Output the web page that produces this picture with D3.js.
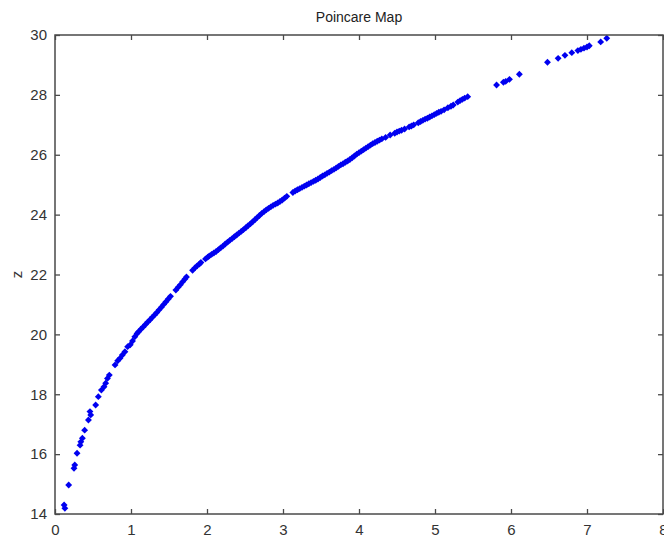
<!DOCTYPE html>
<html>
<head>
<meta charset="utf-8">
<script src="https://cdn.jsdelivr.net/npm/d3@7"></script>
<style>
  body { margin: 0; background: #fff; }
  svg { display: block; }
  .tick text { font-family: "Liberation Sans", Arial, sans-serif; font-size: 15px; fill: #333; }
</style>
</head>
<body>
<div id="chart"></div>
<script>
// points (x, z)
var xs = [
  0.12, 0.13, 0.18, 0.25, 0.26, 0.29, 0.33, 0.34, 0.36, 0.39,
  0.44, 0.46, 0.47, 0.535, 0.57, 0.61, 0.645, 0.667, 0.69, 0.715,
  0.79, 0.825, 0.855, 0.886, 0.92, 0.956, 0.99,
  1.02, 1.05, 1.08, 1.10, 1.13, 1.16, 1.19, 1.22, 1.25, 1.28,
  1.31, 1.34, 1.37, 1.40, 1.43, 1.46, 1.49, 1.52, 1.59, 1.62,
  1.65, 1.68, 1.71, 1.73, 1.81, 1.84, 1.87, 1.90, 1.92, 1.98,
  2.01, 2.03, 2.06, 2.09, 2.12, 2.15, 2.18, 2.21, 2.24, 2.27,
  2.30, 2.33, 2.36, 2.39, 2.42, 2.45, 2.48, 2.51, 2.54, 2.57,
  2.60, 2.63, 2.66, 2.69, 2.72, 2.75, 2.78, 2.81, 2.84, 2.87,
  2.90, 2.93, 2.96, 2.99, 3.02, 3.05, 3.13, 3.16, 3.19, 3.22,
  3.25, 3.28, 3.31, 3.34, 3.37, 3.40, 3.43, 3.46, 3.49, 3.52,
  3.55, 3.58, 3.61, 3.64, 3.67, 3.70, 3.73, 3.76, 3.79, 3.82,
  3.85, 3.88, 3.91, 3.94, 3.97, 4.00, 4.03, 4.06, 4.09, 4.12,
  4.15, 4.18, 4.21, 4.24, 4.27, 4.30, 4.35, 4.41, 4.47, 4.50,
  4.53, 4.56, 4.60, 4.66, 4.69, 4.72, 4.78, 4.81, 4.84, 4.87,
  4.90, 4.93, 4.96, 4.99, 5.02, 5.05, 5.08, 5.12, 5.17, 5.21,
  5.24, 5.30, 5.33, 5.36, 5.39, 5.43,
  5.81, 5.90, 5.93, 5.98, 6.11, 6.48, 6.62, 6.71, 6.80, 6.88,
  6.92, 6.96, 7.00, 7.03, 7.18, 7.26
];
var zs = [
  14.30, 14.19, 14.97, 15.53, 15.64, 16.03, 16.30, 16.41, 16.53, 16.80,
  17.14, 17.42, 17.31, 17.64, 17.92, 18.14, 18.25, 18.37, 18.53, 18.64,
  18.98, 19.12, 19.20, 19.31, 19.42, 19.59, 19.65,
  19.78, 19.92, 20.03, 20.09, 20.17, 20.25, 20.33, 20.41, 20.49, 20.57,
  20.65, 20.73, 20.82, 20.91, 21.00, 21.09, 21.18, 21.27, 21.48, 21.57,
  21.66, 21.76, 21.85, 21.92, 22.14, 22.22, 22.29, 22.35, 22.40, 22.52,
  22.58, 22.62, 22.67, 22.72, 22.77, 22.83, 22.89, 22.95, 23.02, 23.08,
  23.14, 23.20, 23.26, 23.32, 23.38, 23.44, 23.50, 23.56, 23.63, 23.69,
  23.76, 23.83, 23.90, 23.97, 24.04, 24.10, 24.16, 24.21, 24.26, 24.31,
  24.35, 24.39, 24.44, 24.49, 24.55, 24.61, 24.74, 24.79, 24.83, 24.87,
  24.91, 24.95, 24.99, 25.03, 25.07, 25.11, 25.15, 25.19, 25.24, 25.29,
  25.33, 25.38, 25.42, 25.47, 25.51, 25.56, 25.61, 25.66, 25.70, 25.75,
  25.79, 25.84, 25.90, 25.96, 26.02, 26.07, 26.12, 26.17, 26.22, 26.27,
  26.32, 26.37, 26.41, 26.45, 26.49, 26.53, 26.58, 26.66, 26.72, 26.76,
  26.79, 26.82, 26.86, 26.93, 26.96, 27.00, 27.07, 27.11, 27.15, 27.19,
  27.22, 27.26, 27.30, 27.34, 27.38, 27.42, 27.45, 27.50, 27.57, 27.62,
  27.66, 27.76, 27.81, 27.85, 27.89, 27.94,
  28.33, 28.42, 28.45, 28.52, 28.69, 29.09, 29.22, 29.32, 29.41, 29.48,
  29.52, 29.56, 29.60, 29.64, 29.77, 29.89
];
var xTicks = [0, 1, 2, 3, 4, 5, 6, 7, 8];
var yTicks = [14, 16, 18, 20, 22, 24, 26, 28, 30];
var title = "Poincare Map";
var yLabel = "z";

var width = 664, height = 548;
var margin = { top: 35, right: 1, bottom: 34, left: 55 };
var axisColor = "#4a4a4a";
var tickLen = 5;

var points = xs.map(function (x, i) { return { x: x, z: zs[i] }; });

var xScale = d3.scaleLinear().domain([0, 8]).range([margin.left, width - margin.right]);
var yScale = d3.scaleLinear().domain([14, 30]).range([height - margin.bottom, margin.top]);

var svg = d3.select("#chart").append("svg")
  .attr("width", width)
  .attr("height", height);

/* points */
var symbol = d3.symbol().type(d3.symbolDiamond2).size(30);
svg.append("g")
  .selectAll("path")
  .data(points)
  .enter()
  .append("path")
  .attr("d", symbol)
  .attr("transform", function (d) { return "translate(" + xScale(d.x) + "," + yScale(d.z) + ")"; })
  .attr("fill", "#0000f0");

/* axes, matlab style box with inward ticks */
function styleAxis(g) {
  g.select(".domain").remove();
  g.selectAll(".tick line").attr("stroke", axisColor).attr("stroke-width", 1.3);
}

svg.append("g")
  .attr("transform", "translate(0," + yScale(14) + ")")
  .call(d3.axisBottom(xScale).tickValues(xTicks).tickSize(-tickLen).tickPadding(10).tickFormat(d3.format("d")))
  .call(styleAxis);

svg.append("g")
  .attr("transform", "translate(" + xScale(0) + ",0)")
  .call(d3.axisLeft(yScale).tickValues(yTicks).tickSize(-tickLen).tickPadding(8).tickFormat(d3.format("d")))
  .call(styleAxis);

svg.append("g")
  .attr("transform", "translate(0," + yScale(30) + ")")
  .call(d3.axisTop(xScale).tickValues(xTicks).tickSize(-tickLen).tickFormat(""))
  .call(styleAxis);

svg.append("g")
  .attr("transform", "translate(" + xScale(8) + ",0)")
  .call(d3.axisRight(yScale).tickValues(yTicks).tickSize(-tickLen).tickFormat(""))
  .call(styleAxis);

svg.append("rect")
  .attr("x", xScale(0))
  .attr("y", yScale(30))
  .attr("width", xScale(8) - xScale(0))
  .attr("height", yScale(14) - yScale(30))
  .attr("fill", "none")
  .attr("stroke", axisColor)
  .attr("stroke-width", 1.5);

/* title and label */
svg.append("text")
  .attr("x", (xScale(0) + xScale(8)) / 2)
  .attr("y", 22)
  .attr("text-anchor", "middle")
  .style("font-family", "Liberation Sans, Arial, sans-serif")
  .style("font-size", "14px")
  .style("fill", "#222")
  .text(title);

svg.append("text")
  .attr("transform", "translate(22," + yScale(22) + ") rotate(-90)")
  .attr("text-anchor", "middle")
  .style("font-family", "Liberation Sans, Arial, sans-serif")
  .style("font-size", "15px")
  .style("fill", "#333")
  .text(yLabel);
</script>
</body>
</html>
